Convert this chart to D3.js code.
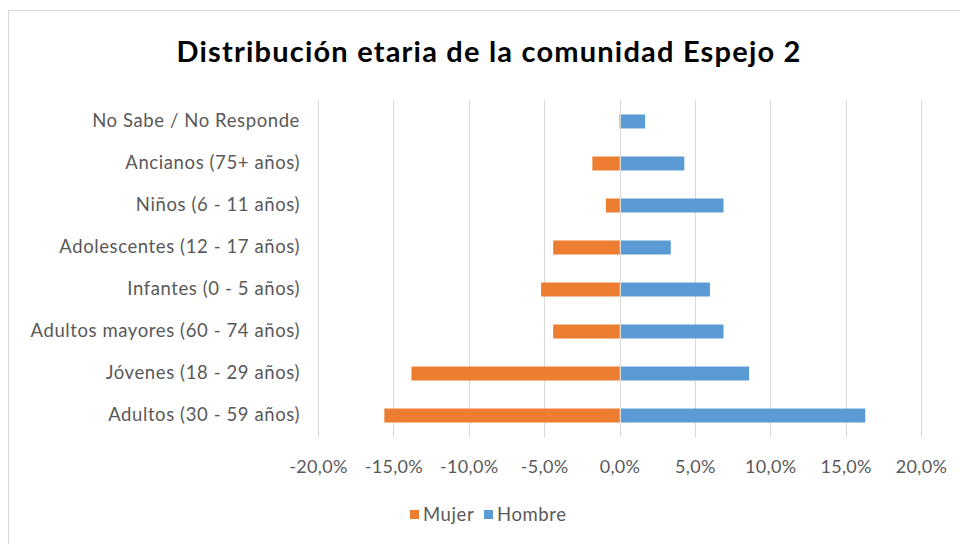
<!DOCTYPE html>
<html><head><meta charset="utf-8">
<script src="https://cdn.jsdelivr.net/npm/d3@7"></script>
<style>body{margin:0;background:#fff}svg{display:block}</style>
</head><body>
<svg id="chart" width="960" height="544"></svg>
<script>
const categories = ["No Sabe / No Responde","Ancianos (75+ años)","Niños (6 - 11 años)","Adolescentes (12 - 17 años)","Infantes (0 - 5 años)","Adultos mayores (60 - 74 años)","Jóvenes (18 - 29 años)","Adultos (30 - 59 años)"];
const mujer = [0, -1.8, -0.9, -4.4, -5.2, -4.4, -13.8, -15.6];
const hombre = [1.7, 4.3, 6.9, 3.4, 6.0, 6.9, 8.6, 16.3];
const tickValues = [-20,-15,-10,-5,0,5,10,15,20];
const seriesNames = ["Mujer","Hombre"];
const colors = ["#ED7D31","#5B9BD5"];

const svg = d3.select("#chart");
const font = "Lato, sans-serif";
svg.append("rect").attr("x",8.5).attr("y",10.5).attr("width",1000).attr("height",1000)
  .attr("fill","#fff").attr("stroke","#D9D9D9");

const x = d3.scaleLinear().domain([-20,20]).range([318,921]);
const y = d3.scaleBand().domain(categories).range([100.5,436.5]).paddingInner(0.667).paddingOuter(0.333);

svg.append("text").attr("x",489).attr("y",62).attr("text-anchor","middle")
  .attr("font-family",font).attr("font-weight","bold").attr("font-size",29)
  .attr("letter-spacing",1.2).attr("fill","#000")
  .text("Distribución etaria de la comunidad Espejo 2");

svg.append("g").selectAll("line").data(tickValues).join("line")
  .attr("x1",d=>Math.round(x(d))+0.5).attr("x2",d=>Math.round(x(d))+0.5)
  .attr("y1",100).attr("y2",437).attr("stroke","#D9D9D9");

const rows = categories.map((c,i)=>({c, m:mujer[i], h:hombre[i]}));
svg.append("g").selectAll("rect").data(rows).join("rect")
  .attr("x",d=>x(d.m)).attr("width",d=>x(0)-x(d.m))
  .attr("y",d=>y(d.c)).attr("height",y.bandwidth()).attr("fill",colors[0]);
svg.append("g").selectAll("rect").data(rows).join("rect")
  .attr("x",x(0)).attr("width",d=>x(d.h)-x(0))
  .attr("y",d=>y(d.c)).attr("height",y.bandwidth()).attr("fill",colors[1]);

svg.append("line").attr("x1",Math.round(x(0))+0.5).attr("x2",Math.round(x(0))+0.5)
  .attr("y1",100).attr("y2",437).attr("stroke","#D9D9D9");

const fmt = d => d3.format(".1f")(d).replace(".",",").replace("−","-") + "%";
const xAxis = d3.axisBottom(x).tickValues(tickValues).tickFormat(fmt).tickSize(0).tickPadding(0);
const gx = svg.append("g").attr("transform","translate(0,460)").call(xAxis);
gx.select(".domain").remove();
gx.selectAll("text").attr("font-family",font).attr("font-size",18).attr("letter-spacing",0.3).attr("fill","#595959");

const yAxis = d3.axisLeft(y).tickSize(0).tickPadding(0);
const gy = svg.append("g").attr("transform","translate(300,0)").call(yAxis);
gy.select(".domain").remove();
gy.selectAll("text").attr("font-family",font).attr("font-size",18.5).attr("letter-spacing",0.6).attr("fill","#595959");

const legend = svg.append("g").attr("transform","translate(410,515)");
const items = [{n:seriesNames[0],c:colors[0],x:0},{n:seriesNames[1],c:colors[1],x:74}];
const li = legend.selectAll("g").data(items).join("g").attr("transform",d=>`translate(${d.x},0)`);
li.append("rect").attr("x",0).attr("y",-5).attr("width",9).attr("height",9).attr("fill",d=>d.c);
li.append("text").attr("x",13).attr("y",0).attr("dy","0.35em").attr("font-family",font)
  .attr("font-size",18.5).attr("letter-spacing",0.6).attr("fill","#595959").text(d=>d.n);
</script>
</body></html>
